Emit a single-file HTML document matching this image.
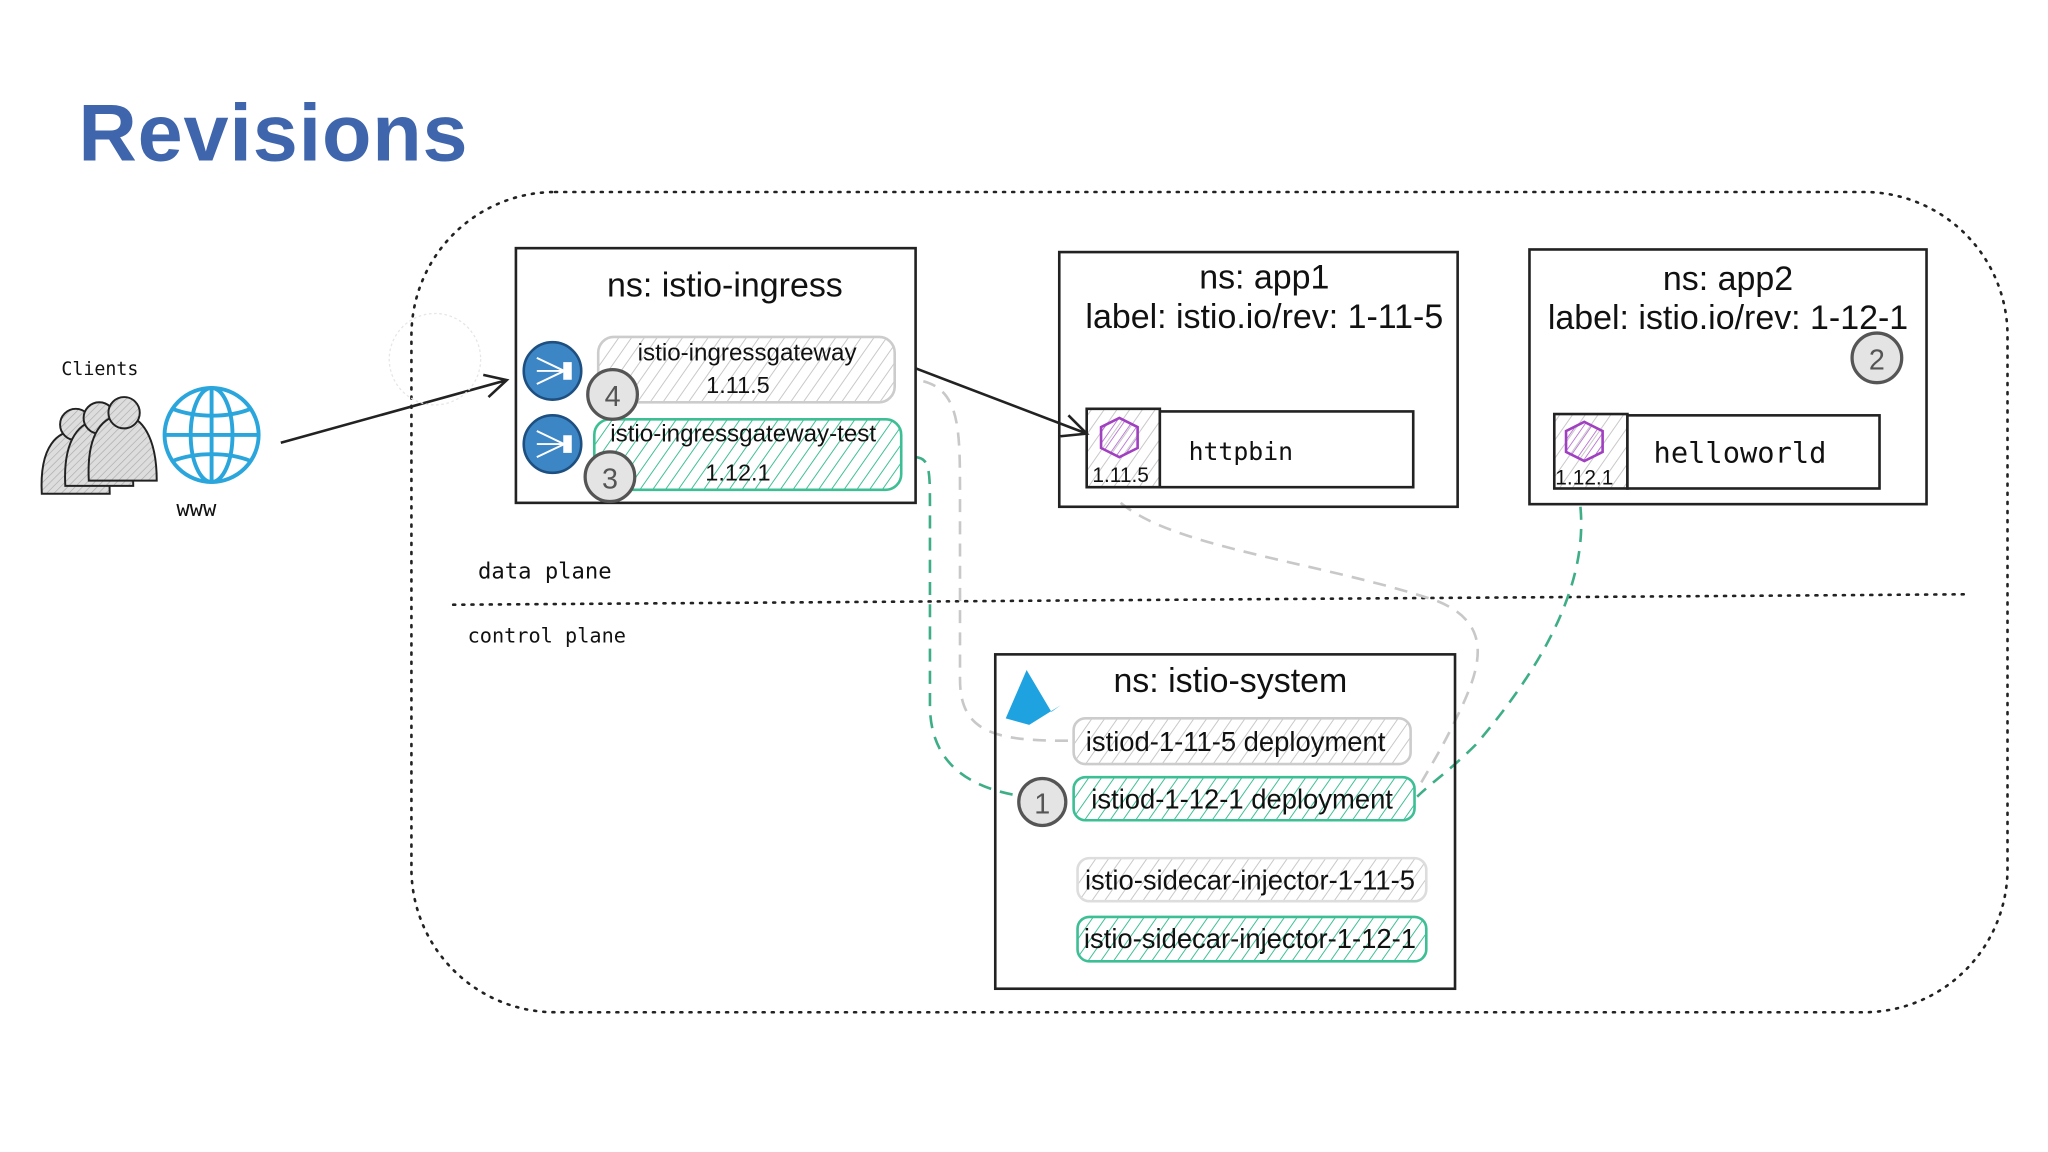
<!DOCTYPE html>
<html><head><meta charset="utf-8"><style>
html,body{margin:0;padding:0;background:#fff;width:2048px;height:1152px;overflow:hidden}
svg{display:block}
text{font-family:"Liberation Sans",sans-serif;fill:#111}
.hand{font-family:"DejaVu Sans Mono",monospace;font-weight:300}
</style></head><body>
<svg width="2048" height="1152" viewBox="0 0 1568 882" xmlns="http://www.w3.org/2000/svg">
<defs>
<pattern id="hg" width="8" height="8" patternUnits="userSpaceOnUse" patternTransform="rotate(35)"><line x1="0" y1="0" x2="0" y2="8" stroke="#c8c8c8" stroke-width="1.5"/></pattern>
<pattern id="hgr" width="8" height="8" patternUnits="userSpaceOnUse" patternTransform="rotate(35)"><line x1="0" y1="0" x2="0" y2="8" stroke="#3dbf95" stroke-width="1.5"/></pattern>
<pattern id="hp" width="5" height="5" patternUnits="userSpaceOnUse" patternTransform="rotate(35)"><line x1="0" y1="0" x2="0" y2="5" stroke="#b060d0" stroke-width="1.2"/></pattern>
<pattern id="xh" width="4" height="4" patternUnits="userSpaceOnUse" patternTransform="rotate(45)"><rect width="4" height="4" fill="#ddd"/><line x1="0" y1="0" x2="0" y2="4" stroke="#aaa" stroke-width="1"/></pattern>
</defs>
<rect width="1568" height="882" fill="#fff"/>
<text x="60" y="123" font-size="62" font-weight="bold" textLength="298" style="fill:#3f66ad">Revisions</text>

<rect x="315" y="147" width="1222" height="628" rx="110" fill="none" stroke="#222" stroke-width="2" stroke-dasharray="1.5 5.5" stroke-linecap="round"/>
<line x1="347" y1="463" x2="1505" y2="455" stroke="#222" stroke-width="2" stroke-dasharray="1.5 5.5" stroke-linecap="round"/>
<text class="hand" x="366" y="443" font-size="17">data plane</text>
<text class="hand" x="358" y="492" font-size="15.5">control plane</text>

<path d="M690 290 C735 290 735 320 735 380 L735 520 C735 560 760 568 822 567" fill="none" stroke="#c8c8c8" stroke-width="2" stroke-dasharray="10 7"/>
<path d="M858 385 C900 420 1010 430 1100 460 C1150 480 1130 520 1110 560 C1100 580 1090 595 1085 605" fill="none" stroke="#c8c8c8" stroke-width="2" stroke-dasharray="10 7"/>
<path d="M700 350 C712 350 712 360 712 390 L712 540 C712 590 750 605 785 610" fill="none" stroke="#3dae86" stroke-width="2" stroke-dasharray="10 7"/>
<path d="M1210 388 C1215 440 1190 500 1130 570 C1110 590 1095 600 1085 610" fill="none" stroke="#3dae86" stroke-width="2" stroke-dasharray="10 7"/>

<text class="hand" x="47" y="287" font-size="14">Clients</text>
<g stroke="#222" stroke-width="1.5" fill="url(#xh)">
<path d="M32 378 C30 340 45 330 58 330 C72 330 84 345 84 378 Z"/>
<circle cx="58" cy="325" r="12"/>
<path d="M50 372 C48 335 62 322 76 322 C90 322 102 338 102 372 Z"/>
<circle cx="76" cy="320" r="12"/>
<path d="M68 368 C66 330 80 318 94 318 C108 318 120 334 120 368 Z"/>
<circle cx="95" cy="316" r="12"/>
</g>
<g stroke="#2aa6dc" stroke-width="3" fill="none">
<circle cx="162" cy="333" r="36"/>
<ellipse cx="162" cy="333" rx="16" ry="36"/>
<line x1="162" y1="297" x2="162" y2="369"/>
<line x1="126" y1="333" x2="198" y2="333"/>
<path d="M132 313 C150 320 175 320 192 313"/>
<path d="M132 353 C150 346 175 346 192 353"/>
</g>
<text class="hand" x="135" y="395" font-size="17" font-weight="bold">www</text>

<path d="M215 339 L388 291 M370 287 L388 291 L374 304" fill="none" stroke="#222" stroke-width="2"/>
<circle cx="333" cy="275" r="35" fill="none" stroke="#e6e6e6" stroke-width="1" stroke-dasharray="2 2"/>

<rect x="395" y="190" width="306" height="195" fill="#fff" stroke="#222" stroke-width="2"/>
<text x="555" y="227" font-size="26" text-anchor="middle">ns: istio-ingress</text>
<rect x="458" y="258" width="227" height="50" rx="12" fill="url(#hg)" stroke="#ccc" stroke-width="2"/>
<text x="572" y="276" font-size="18.5" text-anchor="middle">istio-ingressgateway</text>
<text x="565" y="301" font-size="18" text-anchor="middle">1.11.5</text>
<rect x="455" y="321" width="235" height="54" rx="12" fill="url(#hgr)" stroke="#3dbf95" stroke-width="2"/>
<text x="569" y="338" font-size="18.5" text-anchor="middle">istio-ingressgateway-test</text>
<text x="565" y="368" font-size="18" text-anchor="middle">1.12.1</text>
<g>
<circle cx="423" cy="284" r="22" fill="#3d86c6" stroke="#1d4f80" stroke-width="2"/>
<circle cx="423" cy="340" r="22" fill="#3d86c6" stroke="#1d4f80" stroke-width="2"/>
<g stroke="#fff" stroke-width="1.5" fill="#fff"><path d="M411 274 L432 284 M411 284 L432 284 M411 294 L432 284 M411 330 L432 340 M411 340 L432 340 M411 350 L432 340"/><rect x="432" y="278" width="5" height="12"/><rect x="432" y="334" width="5" height="12"/></g>
</g>
<g fill="#e4e4e4" stroke="#555" stroke-width="2.5">
<circle cx="469" cy="302" r="19"/><circle cx="467" cy="365" r="19"/>
</g>
<text x="469" y="311" font-size="22" text-anchor="middle" style="fill:#555">4</text>
<text x="467" y="374" font-size="22" text-anchor="middle" style="fill:#555">3</text>

<path d="M701 282 L832 332 M812 334 L832 332 L818 318" fill="none" stroke="#222" stroke-width="2"/>

<rect x="811" y="193" width="305" height="195" fill="none" stroke="#222" stroke-width="2"/>
<text x="968" y="221" font-size="26" text-anchor="middle">ns: app1</text>
<text x="968" y="251" font-size="26" text-anchor="middle">label: istio.io/rev: 1-11-5</text>
<rect x="832" y="313" width="56" height="60" fill="url(#hg)" stroke="#222" stroke-width="2"/>
<rect x="888" y="315" width="194" height="58" fill="#fff" stroke="#222" stroke-width="2"/>
<polygon points="857,320 871,327 871,343 857,350 843,343 843,327" fill="url(#hp)" stroke="#a040c0" stroke-width="2"/>
<text x="858" y="369" font-size="16" text-anchor="middle">1.11.5</text>
<text class="hand" x="910" y="352" font-size="19">httpbin</text>

<rect x="1171" y="191" width="304" height="195" fill="none" stroke="#222" stroke-width="2"/>
<text x="1323" y="222" font-size="26" text-anchor="middle">ns: app2</text>
<text x="1323" y="252" font-size="26" text-anchor="middle">label: istio.io/rev: 1-12-1</text>
<circle cx="1437" cy="274" r="19" fill="#e4e4e4" stroke="#555" stroke-width="2.5"/>
<text x="1437" y="283" font-size="22" text-anchor="middle" style="fill:#555">2</text>
<rect x="1190" y="317" width="56" height="57" fill="url(#hg)" stroke="#222" stroke-width="2"/>
<rect x="1246" y="318" width="193" height="56" fill="#fff" stroke="#222" stroke-width="2"/>
<polygon points="1213,323 1227,330 1227,346 1213,353 1199,346 1199,330" fill="url(#hp)" stroke="#a040c0" stroke-width="2"/>
<text x="1213" y="371" font-size="16" text-anchor="middle">1.12.1</text>
<text class="hand" x="1266" y="354" font-size="22">helloworld</text>

<rect x="762" y="501" width="352" height="256" fill="none" stroke="#222" stroke-width="2"/>
<text x="942" y="530" font-size="26" text-anchor="middle">ns: istio-system</text>
<path d="M786 513 L805 545 L812 540 L788 555 L770 550 Z" fill="#1ea3e0"/>
<rect x="822" y="550" width="258" height="35" rx="9" fill="url(#hg)" stroke="#ccc" stroke-width="2"/>
<text x="946" y="575" font-size="21" text-anchor="middle">istiod-1-11-5 deployment</text>
<rect x="822" y="595" width="261" height="33" rx="9" fill="url(#hgr)" stroke="#3dbf95" stroke-width="2"/>
<text x="951" y="619" font-size="21" text-anchor="middle">istiod-1-12-1 deployment</text>
<circle cx="798" cy="614" r="18" fill="#e4e4e4" stroke="#555" stroke-width="2.5"/>
<text x="798" y="623" font-size="22" text-anchor="middle" style="fill:#555">1</text>
<rect x="825" y="657" width="267" height="33" rx="9" fill="url(#hg)" stroke="#ddd" stroke-width="2"/>
<text x="957" y="681" font-size="21" text-anchor="middle">istio-sidecar-injector-1-11-5</text>
<rect x="825" y="702" width="267" height="34" rx="9" fill="url(#hgr)" stroke="#3dbf95" stroke-width="2"/>
<text x="957" y="726" font-size="21" text-anchor="middle">istio-sidecar-injector-1-12-1</text>
</svg>
</body></html>
